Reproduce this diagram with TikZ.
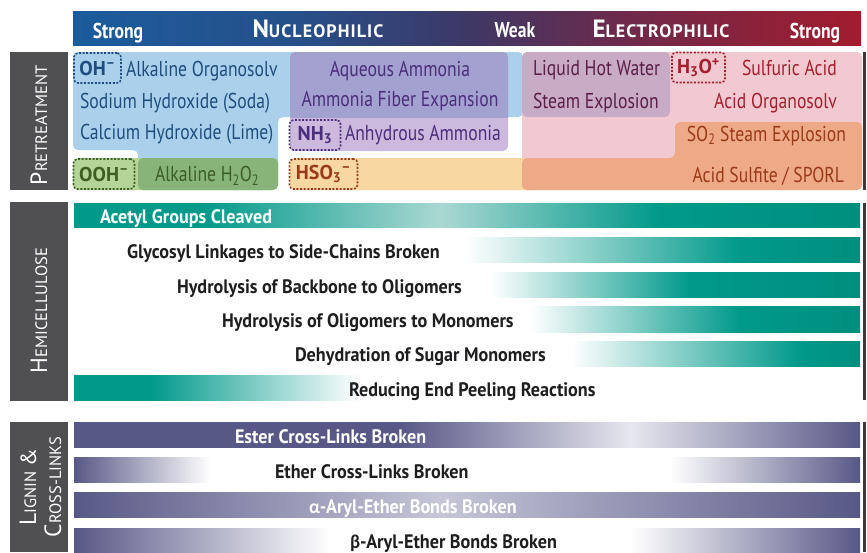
\documentclass[tikz,border=0pt]{standalone}
\usepackage{fontspec}
\setmainfont{PT Sans}
\newfontfamily\cf{PT Sans}[FakeStretch=0.82]
\newfontfamily\hemf{PT Sans}[FakeStretch=0.93]
\newfontfamily\ff{PT Sans}
\newfontfamily\lsf{PT Sans}[LetterSpace=6]
\newfontfamily\gk{Carlito}[FakeStretch=0.95]
\definecolor{cblue}{HTML}{AAD0EB}
\definecolor{cpink}{HTML}{F2C9D0}
\definecolor{cmauve}{HTML}{C8ABC4}
\definecolor{cpurd}{HTML}{A2A1CF}
\definecolor{cpurl}{HTML}{CBBADD}
\definecolor{corange}{HTML}{F9D7A1}
\definecolor{csalmon}{HTML}{EEA987}
\definecolor{cgreenl}{HTML}{B5D598}
\definecolor{cgreend}{HTML}{88B379}
\definecolor{tblue}{HTML}{1F4E7E}
\definecolor{tpurple}{HTML}{4C2E7B}
\definecolor{tmauve}{HTML}{5B1F4A}
\definecolor{tred}{HTML}{A3202F}
\definecolor{tbrown}{HTML}{9B3A18}
\definecolor{tgreen}{HTML}{3D5E24}
\definecolor{secgray}{HTML}{505052}
\definecolor{rline}{HTML}{3A3A3C}
\definecolor{tealc}{HTML}{00998A}
\definecolor{tealdk}{HTML}{008F7F}
\definecolor{teallt}{HTML}{AAD8D2}
\definecolor{slate}{HTML}{585887}
\definecolor{slatelt}{HTML}{E7E7EF}
\definecolor{slatemid}{HTML}{C6C6D8}
\definecolor{hblue}{HTML}{1B5C9C}
\definecolor{hblue2}{HTML}{26508A}
\definecolor{hpurp}{HTML}{3E3866}
\definecolor{hmag}{HTML}{6E2A4B}
\definecolor{hred}{HTML}{A21C2C}
\definecolor{txtdark}{HTML}{1E1E20}
% header
\pgfdeclarehorizontalshading{hdrshade}{100bp}{color(0bp)=(hblue); color(25bp)=(hblue); color(39bp)=(hblue2); color(50bp)=(hpurp); color(60bp)=(hmag); color(75bp)=(hred); color(100bp)=(hred)}
% hemicellulose
\pgfdeclarehorizontalshading{sacetyl}{100bp}{color(0bp)=(tealc); color(25bp)=(tealc); color(33bp)=(tealc); color(48.3bp)=(teallt); color(62.3bp)=(tealc); color(75bp)=(tealdk); color(100bp)=(tealdk)}
\pgfdeclarehorizontalshading{sglyco}{100bp}{color(0bp)=(white); color(49.9bp)=(white); color(67.4bp)=(tealc); color(75bp)=(tealdk); color(100bp)=(tealdk)}
\pgfdeclarehorizontalshading{sback}{100bp}{color(0bp)=(white); color(51.5bp)=(white); color(64.2bp)=(tealc); color(75bp)=(tealdk); color(100bp)=(tealdk)}
\pgfdeclarehorizontalshading{soligo}{100bp}{color(0bp)=(white); color(54bp)=(white); color(67.4bp)=(tealc); color(75bp)=(tealdk); color(100bp)=(tealdk)}
\pgfdeclarehorizontalshading{sdehyd}{100bp}{color(0bp)=(white); color(56.6bp)=(white); color(71.2bp)=(tealc); color(75bp)=(tealdk); color(100bp)=(tealdk)}
\pgfdeclarehorizontalshading{sreduc}{100bp}{color(0bp)=(tealc); color(25bp)=(tealc); color(29.8bp)=(tealc); color(43.2bp)=(white); color(100bp)=(white)}
% lignin
\pgfdeclarehorizontalshading{sester}{100bp}{color(0bp)=(slate); color(25bp)=(slate); color(45.7bp)=(slate); color(60.4bp)=(slatelt); color(75bp)=(slate); color(100bp)=(slate)}
\pgfdeclarehorizontalshading{sether}{100bp}{color(0bp)=(slate); color(25bp)=(slate); color(33.7bp)=(white); color(62.9bp)=(white); color(75bp)=(slate); color(100bp)=(slate)}
\pgfdeclarehorizontalshading{salpha}{100bp}{color(0bp)=(slate); color(25bp)=(slate); color(48.3bp)=(slatemid); color(75bp)=(slate); color(100bp)=(slate)}
\pgfdeclarehorizontalshading{sbeta}{100bp}{color(0bp)=(slate); color(25bp)=(slate); color(41.3bp)=(white); color(60.4bp)=(white); color(75bp)=(slate); color(100bp)=(slate)}
\newcommand{\mysc}[2]{{\fontsize{23.5}{23.5}\selectfont #1}{\fontsize{16.5}{16.5}\selectfont #2}}
\newcommand{\hsc}[2]{{\fontsize{25}{25}\selectfont #1}{\fontsize{18}{18}\selectfont #2}}
\tikzset{
  every node/.style={inner sep=0pt, outer sep=0pt},
  secbox/.style={fill=secgray},
  seclbl/.style={text=white, font=\ff, rotate=90, anchor=west},
  ptxt/.style={font=\cf\fontsize{21.5}{21.5}\selectfont, anchor=base west},
  dbox/.style={draw, dash pattern=on 2pt off 1.6pt, line width=1.6pt, rounded corners=4pt, font=\ff\bfseries\fontsize{20}{20}\selectfont},
  htxt/.style={font=\hemf\bfseries\fontsize{19.5}{19.5}\selectfont, anchor=base west, text=txtdark},
  hdr/.style={font=\cf\bfseries\fontsize{21.5}{21.5}\selectfont, text=white, anchor=base},
  hdrbig/.style={font=\lsf\bfseries, text=white, anchor=base},
}
\begin{document}
\begin{tikzpicture}[x=1pt,y=-1pt]
\useasboundingbox (0,0) rectangle (867,552);
% ---------------- header
\shade[shading=hdrshade] (73,11) rectangle (861,45);
\node[hdr] (hs1) at (118,38) {Strong};
\node[hdrbig] (hnu) at (318,37) {\hsc{N}{UCLEOPHILIC}};
\node[hdr] (hwk) at (515,37.5) {Weak};
\node[hdrbig] (hel) at (661,37) {\hsc{E}{LECTROPHILIC}};
\node[hdr] (hs2) at (815,38) {Strong};
% ---------------- pretreatment
\fill[secbox] (10,52) rectangle (68,190);
\node[seclbl] (lpre) at (39,185) {\mysc{P}{RETREATMENT}};
\fill[cblue, rounded corners=5pt] (73,52) -- (523,52) -- (523,117) -- (278,117) -- (278,190) -- (138,190) -- (138,150) -- (73,150) -- cycle;
\fill[cpink, rounded corners=5pt] (522,52) rectangle (862,190);
\fill[cmauve, rounded corners=5pt] (522,52) rectangle (670,117);
\fill[cpurl, rounded corners=5pt] (290,52) rectangle (508,151);
\begin{scope}
  \clip (280,40) rectangle (520,117);
  \fill[cpurd, rounded corners=5pt] (290,52) rectangle (508,151);
\end{scope}
\fill[corange, rounded corners=5pt] (290,158) rectangle (540,190);
\fill[csalmon, rounded corners=5pt] (522,190) -- (522,158) -- (675,158) -- (675,122) -- (862,122) -- (862,190) -- cycle;
\fill[cgreenl, rounded corners=5pt] (73,158) rectangle (278,190);
\fill[cgreend, rounded corners=5pt] (138,158) rectangle (278,190);
\fill[rline] (863,52) rectangle (866,190);
% dashed formula boxes
\node[dbox, draw=tblue, text=tblue, minimum width=47pt, minimum height=30pt] (oh) at (97.5,68) {OH\textsuperscript{–}};
\node[dbox, draw=tgreen, text=tgreen, minimum width=61pt, minimum height=30pt] (ooh) at (104,174) {OOH\textsuperscript{–}};
\node[dbox, draw=tpurple, text=tpurple, minimum width=51pt, minimum height=30pt] (nh3) at (315,135) {NH\textsubscript{3}};
\node[dbox, draw=tbrown, text=tbrown, minimum width=68pt, minimum height=30pt] (hso3) at (323.5,174) {HSO\textsubscript{3}\textsuperscript{–}};
\node[dbox, draw=tred, text=tred, minimum width=53pt, minimum height=30pt] (h3o) at (698.5,67.5) {H\textsubscript{3}O\textsuperscript{+}};
% pretreatment texts
\node[ptxt, text=tblue] (tao) at (126,76) {Alkaline Organosolv};
\node[ptxt, text=tblue] (tsoda) at (80,108) {Sodium Hydroxide (Soda)};
\node[ptxt, text=tblue] (tlime) at (80,139.5) {Calcium Hydroxide (Lime)};
\node[ptxt, text=tgreen] (th2o2) at (155,181.5) {Alkaline H\textsubscript{2}O\textsubscript{2}};
\node[ptxt, text=tpurple, anchor=base] (taq) at (400,76.5) {Aqueous Ammonia};
\node[ptxt, text=tpurple, anchor=base] (tafex) at (400,106.5) {Ammonia Fiber Expansion};
\node[ptxt, text=tpurple] (tanh) at (345,140) {Anhydrous Ammonia};
\node[ptxt, text=tmauve] (tlhw) at (533,75) {Liquid Hot Water};
\node[ptxt, text=tmauve] (tse) at (533,108) {Steam Explosion};
\node[ptxt, text=tred] (tsa) at (742,75) {Sulfuric Acid};
\node[ptxt, text=tred, anchor=base east] (taorg) at (837,108) {Acid Organosolv};
\node[ptxt, text=tbrown, anchor=base east] (tso2) at (846,141) {SO\textsubscript{2} Steam Explosion};
\node[ptxt, text=tbrown, anchor=base east] (tsporl) at (844,182) {Acid Sulfite / SPORL};
% ---------------- hemicellulose
\fill[secbox] (10,202) rectangle (68,401);
\node[seclbl] (lhemi) at (39,373) {\mysc{H}{EMICELLULOSE}};
\shade[shading=sacetyl] (74,203) rectangle (860,227);
\shade[shading=sglyco] (74,237) rectangle (860,262);
\shade[shading=sback] (74,272) rectangle (860,297);
\shade[shading=soligo] (74,306) rectangle (860,332);
\shade[shading=sdehyd] (74,341) rectangle (860,366);
\shade[shading=sreduc] (74,375) rectangle (860,400);
\fill[rline] (863,203) rectangle (866,400);
\node[htxt, text=white] (hac) at (100,223) {Acetyl Groups Cleaved};
\node[htxt] (hgl) at (127,258) {Glycosyl Linkages to Side-Chains Broken};
\node[htxt] (hbb) at (177,293) {Hydrolysis of Backbone to Oligomers};
\node[htxt] (hol) at (222,327) {Hydrolysis of Oligomers to Monomers};
\node[htxt] (hde) at (295,361) {Dehydration of Sugar Monomers};
\node[htxt] (hre) at (349,396) {Reducing End Peeling Reactions};
% ---------------- lignin
\fill[secbox] (10,422) rectangle (68,552);
\node[seclbl, anchor=center] (llig1) at (28,487) {\mysc{L}{IGNIN }{\fontsize{22}{22}\selectfont\&}};
\node[seclbl, anchor=center] (llig2) at (53,487) {\mysc{C}{ROSS-LINKS}};
\shade[shading=sester] (74,422) rectangle (860,447);
\shade[shading=sether] (74,457) rectangle (860,482);
\shade[shading=salpha] (74,492) rectangle (860,517);
\shade[shading=sbeta] (74,528) rectangle (860,553);
\fill[rline] (863,422) rectangle (866,552);
\node[htxt, text=white] (les) at (235,443) {Ester Cross-Links Broken};
\node[htxt] (let) at (275,478) {Ether Cross-Links Broken};
\node[htxt, text=white] (lal) at (309,513) {{\gk α}-Aryl-Ether Bonds Broken};
\node[htxt] (lbe) at (350,548) {{\gk β}-Aryl-Ether Bonds Broken};
\end{tikzpicture}
\end{document}
